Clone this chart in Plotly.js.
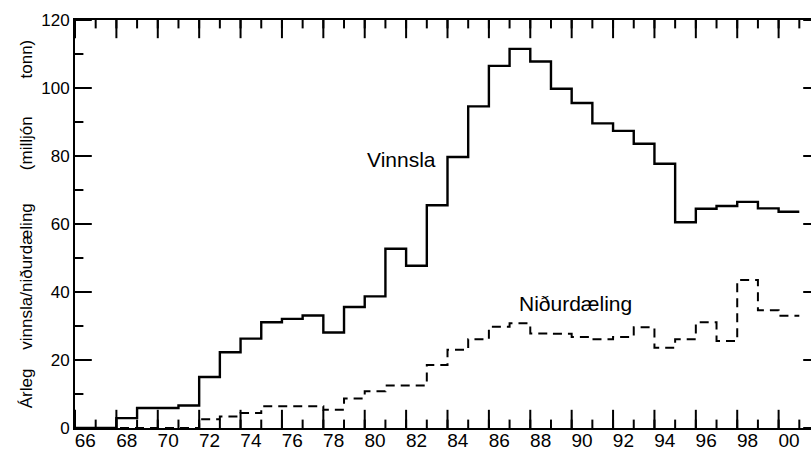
<!DOCTYPE html>
<html>
<head>
<meta charset="utf-8">
<script src="https://cdn.plot.ly/plotly-3.0.1.min.js"></script>
<style>
  html, body { margin: 0; padding: 0; overflow: hidden; background: #fff; }
  #chart { width: 822px; height: 453px; }
</style>
</head>
<body>
<div id="chart"></div>
<script>
// Years (each value covers one whole year: from year to year+1)
const years = [1966,1967,1968,1969,1970,1971,1972,1973,1974,1975,1976,1977,1978,1979,1980,
               1981,1982,1983,1984,1985,1986,1987,1988,1989,1990,1991,1992,1993,1994,1995,
               1996,1997,1998,1999,2000];
// Vinnsla (production), million tonnes per year
const vinnsla = [0,0,2.9,5.9,5.9,6.6,15,22.3,26.3,31.1,32.1,33.1,28.1,35.6,38.7,
                 52.7,47.7,65.5,79.7,94.6,106.5,111.5,107.8,99.8,95.6,89.6,87.4,83.6,77.7,60.5,
                 64.5,65.3,66.5,64.6,63.6];
// Niðurdæling (reinjection), million tonnes per year
const nidurdaeling = [0,0,0,0,0,0,2.6,3.4,4.4,6.4,6.4,6.4,5.4,8.7,10.8,
                      12.5,12.5,18.5,23.0,26.1,29.8,30.8,27.8,27.7,26.8,26.1,26.8,29.6,23.6,26.1,
                      31.1,25.6,43.5,34.6,33.0];
// Tick labels (even years, printed centred within their year)
const labelYears = [1966,1968,1970,1972,1974,1976,1978,1980,1982,1984,1986,1988,1990,1992,1994,1996,1998,2000];
const labelText = ["66","68","70","72","74","76","78","80","82","84","86","88","90","92","94","96","98","00"];
const yMajorTicks = [0,20,40,60,80,100,120];
const yMinorTicks = [10,30,50,70,90,110];

const seriesNames = { v: "Vinnsla", n: "Niðurdæling" };
const sp = n => "\u00a0".repeat(n - 1) + " ";
const yTitle = "Árleg" + sp(4) + "vinnsla/niðurdæling" + sp(7) + "(milljón" + sp(8) + "tonn)";

const xRange = [1966, 2002];
const yRange = [0, 120];

function stepX(xs) { return xs.concat([xs[xs.length - 1] + 1]); }
function stepY(ys) { return ys.concat([ys[ys.length - 1]]); }

const font = "Liberation Sans, Arial, Helvetica, sans-serif";
const black = "#000";

// Frame tick marks: line markers centred on the frame, clipped by the plot area
// so only the inner half shows (inward-pointing ticks on all four sides).
const tickYears = stepX(years);
function xTicks(vals, len) {
  return { x: vals.concat(vals), y: vals.map(() => yRange[0]).concat(vals.map(() => yRange[1])),
    type: "scatter", mode: "markers", cliponaxis: true, hoverinfo: "skip", showlegend: false,
    marker: { symbol: "line-ns", size: 2 * len, color: black, line: { width: 2, color: black } } };
}
function yTicks(vals, len) {
  return { y: vals.concat(vals), x: vals.map(() => xRange[0]).concat(vals.map(() => xRange[1])),
    type: "scatter", mode: "markers", cliponaxis: true, hoverinfo: "skip", showlegend: false,
    marker: { symbol: "line-ew", size: 2 * len, color: black, line: { width: 2, color: black } } };
}

const traces = [
  xTicks(tickYears, 6),
  xTicks(labelYears, 13),
  yTicks(yMinorTicks, 6),
  yTicks(yMajorTicks, 12),
  { x: stepX(years), y: stepY(vinnsla), type: "scatter", mode: "lines",
    line: { shape: "hv", color: black, width: 2.4 }, name: seriesNames.v, hoverinfo: "skip" },
  { x: stepX(years), y: stepY(nidurdaeling), type: "scatter", mode: "lines",
    line: { shape: "hv", color: black, width: 2, dash: "9px,6px" }, name: seriesNames.n, hoverinfo: "skip" }
];

const layout = {
  width: 822, height: 453,
  margin: { l: 75, r: 2, t: 20, b: 25, pad: 0 },
  showlegend: false,
  font: { family: font, color: black },
  xaxis: {
    range: xRange,
    tickmode: "array", tickvals: labelYears.map(y => y + 0.5), ticktext: labelText,
    ticks: "", ticklabelstandoff: -6,
    showgrid: false, zeroline: false,
    showline: true, linecolor: black, linewidth: 2, mirror: true,
    tickfont: { size: 19, family: font, color: black }
  },
  yaxis: {
    range: yRange,
    tickmode: "array", tickvals: yMajorTicks,
    ticks: "",
    showgrid: false, zeroline: false,
    showline: true, linecolor: black, linewidth: 2, mirror: true,
    tickfont: { size: 17, family: font, color: black },
    title: { text: yTitle, font: { size: 17, family: font, color: black }, standoff: 4 }
  },
  annotations: [
    { x: 1981.76, y: 79.0, xref: "x", yref: "y", text: seriesNames.v, showarrow: false,
      font: { size: 21, family: font, color: black }, xanchor: "center", yanchor: "middle" },
    { x: 1990.2, y: 36.7, xref: "x", yref: "y", text: seriesNames.n, showarrow: false,
      font: { size: 21, family: font, color: black }, xanchor: "center", yanchor: "middle" }
  ]
};

Plotly.newPlot("chart", traces, layout, { displayModeBar: false });
</script>
</body>
</html>
